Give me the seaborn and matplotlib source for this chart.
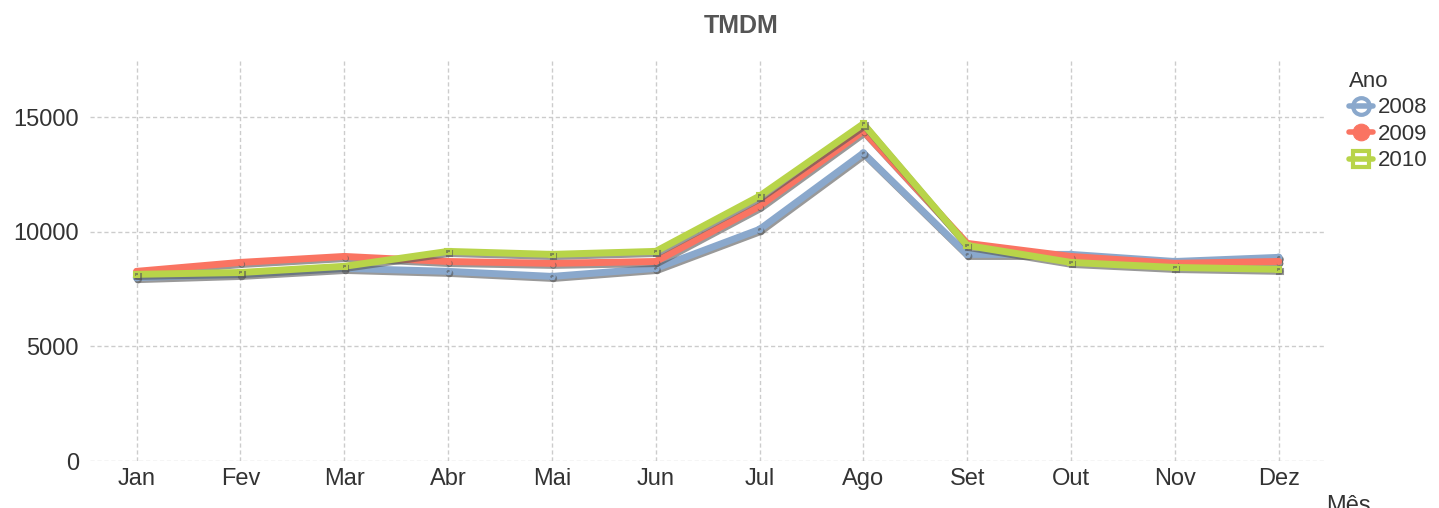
import pandas as pd
import matplotlib
matplotlib.use('Agg')
import matplotlib.pyplot as plt
import matplotlib.patheffects as pe
import seaborn as sns

meses = ['Jan', 'Fev', 'Mar', 'Abr', 'Mai', 'Jun', 'Jul', 'Ago', 'Set', 'Out', 'Nov', 'Dez']
anos = ['2008', '2009', '2010']
v2008 = [8000, 8140, 8400, 8270, 8050, 8400, 10100, 13430, 9010, 9010, 8700, 8880]
v2009 = [8270, 8660, 8920, 8700, 8620, 8700, 11110, 14390, 9490, 8920, 8620, 8700]
v2010 = [8140, 8220, 8490, 9140, 9010, 9140, 11550, 14700, 9400, 8660, 8440, 8360]
cores = ['#8aa8cc', '#fa7462', '#b8d449']

df = pd.DataFrame({
    'Mês': meses * 3,
    'Ano': [a for a in anos for _ in meses],
    'TMDM': v2008 + v2009 + v2010,
})

sns.set_style('white')
plt.rcParams['font.family'] = ['Liberation Sans', 'DejaVu Sans']

fig = plt.figure(figsize=(14.39, 5.08), dpi=100)
ax = fig.add_axes([0.0625, 0.0925, 0.8585, 0.79])

sns.lineplot(data=df, x='Mês', y='TMDM', hue='Ano', style='Ano',
             palette=dict(zip(anos, cores)),
             markers={'2008': 'o', '2009': 'o', '2010': 's'},
             dashes=False, linewidth=5, markersize=4, sort=False, ax=ax)

for line, a in zip(ax.lines, anos):
    line.set_path_effects([pe.SimpleLineShadow(offset=(1, -1.5), shadow_color='#555555', alpha=0.6),
                           pe.Normal()])
    line.set_markeredgecolor(line.get_color())
    if a != '2009':
        line.set_markerfacecolor('none')
        line.set_markeredgewidth(1.5)

ax.set_ylim(0, 17500)
ax.set_xlim(-0.45, 11.45)
ax.set_yticks([0, 5000, 10000, 15000])
ax.grid(True, color='#cccccc', linestyle=(0, (3, 2)), linewidth=1)
for s in ax.spines.values():
    s.set_visible(False)
ax.tick_params(labelsize=17, colors='#333333', length=0)
ax.tick_params(axis='y', pad=8)
ax.tick_params(axis='x', pad=5)
ax.set_xlabel('')
ax.set_ylabel('')
fig.text(0.937, 0.026, 'Mês', fontsize=17, color='#333333', ha='center', va='top')
fig.text(0.515, 0.972, 'TMDM', fontsize=18, fontweight='bold', color='#555555', ha='center', va='top')

leg = ax.legend(title='Ano', loc='upper left', bbox_to_anchor=(1.01, 1.0), frameon=False,
                fontsize=16, title_fontsize=16, handlelength=1.1, labelspacing=0.25,
                borderpad=0, handletextpad=0.2)
leg._legend_box.align = 'left'
for h, a in zip(leg.legend_handles, anos):
    h.set_linewidth(4)
    h.set_markersize(12)
    h.set_markeredgecolor(h.get_color())
    if a != '2009':
        h.set_markerfacecolor('none')
        h.set_markeredgewidth(3)
for t in leg.get_texts():
    t.set_color('#333333')
leg.get_title().set_color('#333333')

fig.savefig('out.png', dpi=100)
